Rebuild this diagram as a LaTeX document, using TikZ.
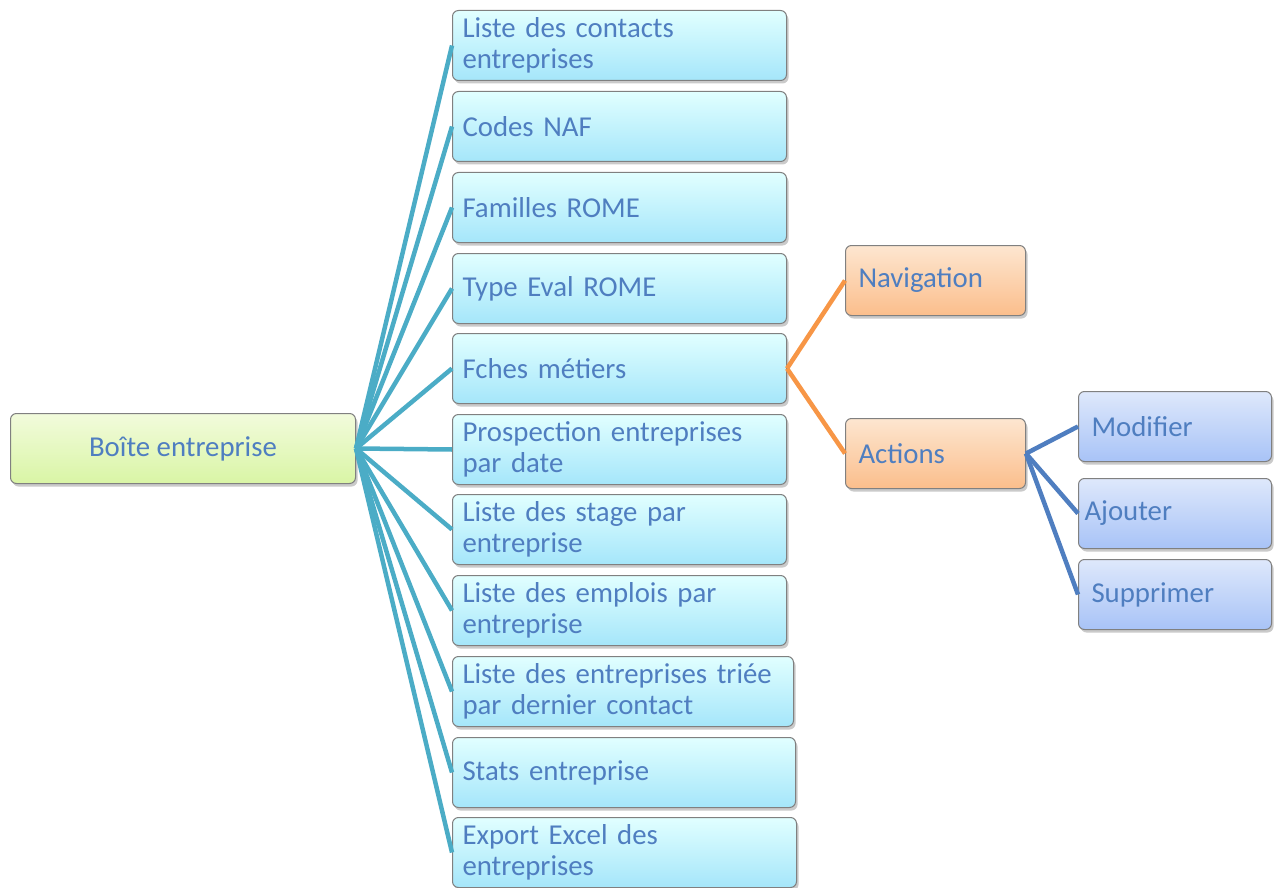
\documentclass[tikz,border=0pt]{standalone}
\usepackage{fontspec}
\setmainfont{Carlito}
\usetikzlibrary{shadows}
\definecolor{txt}{HTML}{4F7EC0}
\definecolor{teal}{HTML}{4BACC6}
\definecolor{orng}{HTML}{F79646}
\definecolor{blu}{HTML}{4F7EC0}
\begin{document}
\begin{tikzpicture}[x=1pt,y=-1pt,
  base/.style={draw=black!50, line width=1pt, rounded corners=6pt, anchor=north west,
    text=txt, font=\fontsize{28.8}{31}\selectfont, minimum height=70pt,
    drop shadow={shadow xshift=2pt, shadow yshift=-3pt, opacity=0.35, fill=black!60}},
  midbox/.style={base, top color=cyan!2!white!90!cyan, bottom color={rgb,255:red,165;green,230;blue,250},
    align=left, inner xsep=10pt, inner ysep=0pt},
  rootbox/.style={base, top color={rgb,255:red,242;green,251;blue,220}, bottom color={rgb,255:red,217;green,245;blue,165},
    align=center, minimum width=345pt, inner sep=0pt},
  orbox/.style={base, top color={rgb,255:red,253;green,230;blue,208}, bottom color={rgb,255:red,251;green,190;blue,140},
    align=left, text width=154pt, inner xsep=13pt, inner ysep=0pt},
  bubox/.style={base, top color={rgb,255:red,222;green,232;blue,251}, bottom color={rgb,255:red,168;green,195;blue,247},
    align=left, text width=167pt, inner xsep=13pt, inner ysep=0pt},
  tline/.style={draw=teal, line width=4.5pt},
  oline/.style={draw=orng, line width=4.5pt},
  bline/.style={draw=blu, line width=4.5pt}
]
\useasboundingbox (0,0) rectangle (1275,888);

\node[rootbox] (root) at (10,413) {Boîte entreprise};

\node[midbox, text width=314pt] (m1) at (452,10) {Liste des contacts\\entreprises};
\node[midbox, text width=314pt] (m2) at (452,91) {Codes NAF};
\node[midbox, text width=314pt] (m3) at (452,172) {Familles ROME};
\node[midbox, text width=314pt] (m4) at (452,253) {Type Eval ROME};
\node[midbox, text width=314pt] (m5) at (452,333) {Fches métiers};
\node[midbox, text width=314pt] (m6) at (452,414) {Prospection entreprises\\par date};
\node[midbox, text width=314pt] (m7) at (452,494) {Liste des stage par\\entreprise};
\node[midbox, text width=314pt] (m8) at (452,575) {Liste des emplois par\\entreprise};
\node[midbox, text width=321pt] (m9) at (452,656) {Liste des entreprises triée\\par dernier contact};
\node[midbox, text width=323pt] (m10) at (452,737) {Stats entreprise};
\node[midbox, text width=324pt] (m11) at (452,817) {Export Excel des\\entreprises};

\node[orbox] (nav) at (845,245) {Navigation};
\node[orbox] (act) at (845,418) {Actions};

\node[bubox] (mod) at (1078,391) {Modifier};
\node[bubox, inner xsep=6pt, text width=181pt] (ajo) at (1078,478) {Ajouter};
\node[bubox] (sup) at (1078,559) {Supprimer};

\foreach \m in {m1,m2,m3,m4,m5,m6,m7,m8,m9,m10,m11}
  \draw[tline] (root.east) -- (\m.west);

\draw[oline] (m5.east) -- (nav.west);
\draw[oline] (m5.east) -- (act.west);

\draw[bline] (act.east) -- (mod.west);
\draw[bline] (act.east) -- (ajo.west);
\draw[bline] (act.east) -- (sup.west);
\end{tikzpicture}
\end{document}
